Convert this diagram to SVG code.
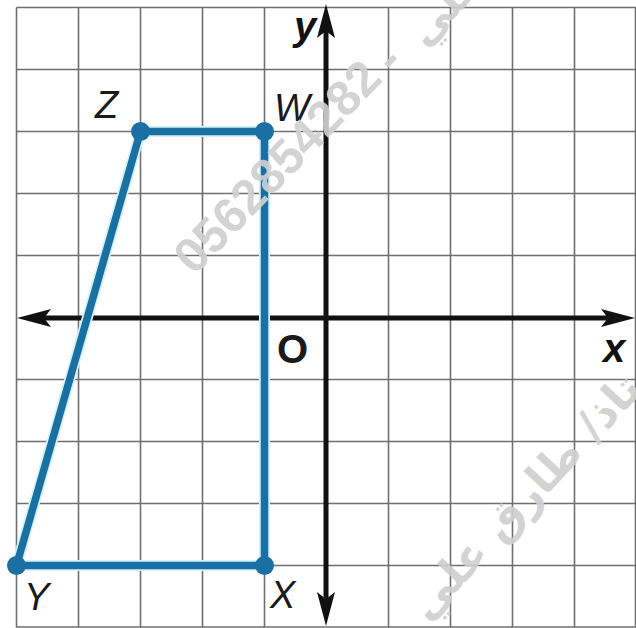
<svg xmlns="http://www.w3.org/2000/svg" width="636" height="628" viewBox="0 0 636 628">
  <style>
    .grid line { stroke: #6f6f6f; stroke-width: 1.6; }
    .axis { stroke: #111; stroke-width: 5; fill: none; }
    .arrow { fill: #111; }
    .halo { stroke: #d3f3fb; stroke-width: 11; fill: none; stroke-linecap: round; stroke-linejoin: round; }
    .edge { stroke: #1a70a3; stroke-width: 7.5; fill: none; stroke-linecap: round; }
    .dot { fill: #1a70a3; }
    .lbl { font-family: "Liberation Sans", Arial, sans-serif; font-size: 38px; font-style: italic; fill: #1a1a1a; }
    .axl { font-family: "Liberation Sans", Arial, sans-serif; font-size: 40px; font-style: italic; font-weight: bold; fill: #111; }
    .wm { font-family: "Liberation Sans", "DejaVu Sans", sans-serif; font-weight: bold; fill: #cfcfcf; fill-opacity: 0.92; }
    .wma { font-family: "DejaVu Sans", sans-serif; font-weight: bold; fill: #cfcfcf; fill-opacity: 0.92; }
  </style>
  <defs>
    <path id="ah" d="M0,0 L-9,34 L0,27 L9,34 Z"/>
  </defs>
  <rect width="636" height="628" fill="#ffffff"/>

  <g id="grid" class="grid">
    <line x1="16.5" y1="7.5" x2="16.5" y2="627.5"/>
    <line x1="78.5" y1="7.5" x2="78.5" y2="627.5"/>
    <line x1="140.5" y1="7.5" x2="140.5" y2="627.5"/>
    <line x1="202.5" y1="7.5" x2="202.5" y2="627.5"/>
    <line x1="264.5" y1="7.5" x2="264.5" y2="627.5"/>
    <line x1="388.5" y1="7.5" x2="388.5" y2="627.5"/>
    <line x1="450.5" y1="7.5" x2="450.5" y2="627.5"/>
    <line x1="512.5" y1="7.5" x2="512.5" y2="627.5"/>
    <line x1="574.5" y1="7.5" x2="574.5" y2="627.5"/>
    <line x1="635.5" y1="7.5" x2="635.5" y2="627.5"/>
    <line x1="16.5" y1="7.5" x2="636" y2="7.5"/>
    <line x1="16.5" y1="69.5" x2="636" y2="69.5"/>
    <line x1="16.5" y1="131.5" x2="636" y2="131.5"/>
    <line x1="16.5" y1="193.5" x2="636" y2="193.5"/>
    <line x1="16.5" y1="255.5" x2="636" y2="255.5"/>
    <line x1="16.5" y1="379.5" x2="636" y2="379.5"/>
    <line x1="16.5" y1="441.5" x2="636" y2="441.5"/>
    <line x1="16.5" y1="503.5" x2="636" y2="503.5"/>
    <line x1="16.5" y1="565.5" x2="636" y2="565.5"/>
    <line x1="16.5" y1="627" x2="636" y2="627"/>
  </g>

  <g id="axes">
    <line class="axis" x1="40" y1="318" x2="612" y2="318"/>
    <line class="axis" x1="326" y1="28" x2="326" y2="602"/>
    <use href="#ah" class="arrow" transform="translate(326,4)"/>
    <use href="#ah" class="arrow" transform="translate(326,626) rotate(180)"/>
    <use href="#ah" class="arrow" transform="translate(17,318) rotate(-90)"/>
    <use href="#ah" class="arrow" transform="translate(635,318) rotate(90)"/>
    <text class="axl" x="294" y="40">y</text>
    <text class="axl" x="603" y="362">x</text>
    <text class="lbl" x="277" y="363" style="font-style:normal;font-weight:bold;font-size:40px">O</text>
  </g>

  <g id="connectors">
    <polygon class="halo" points="140.5,131.5 264.5,131.5 264.5,565.5 16.5,565.5"/>
    <line class="edge" x1="140.5" y1="131.5" x2="264.5" y2="131.5"/>
    <line class="edge" x1="264.5" y1="131.5" x2="264.5" y2="565.5"/>
    <line class="edge" x1="264.5" y1="565.5" x2="16.5" y2="565.5"/>
    <line class="edge" x1="16.5" y1="565.5" x2="140.5" y2="131.5"/>
  </g>

  <g id="Z">
    <circle class="dot" cx="140.5" cy="131.5" r="9.5"/>
    <text class="lbl" x="95" y="118">Z</text>
  </g>
  <g id="W">
    <circle class="dot" cx="264.5" cy="131.5" r="9.5"/>
    <text class="lbl" x="274" y="121">W</text>
  </g>
  <g id="X">
    <circle class="dot" cx="264.5" cy="565.5" r="9.5"/>
    <text class="lbl" x="270" y="608">X</text>
  </g>
  <g id="Y">
    <circle class="dot" cx="16.5" cy="565.5" r="9.5"/>
    <text class="lbl" x="24" y="610">Y</text>
  </g>

  <g id="watermark">
    <text class="wm" font-size="49" text-anchor="middle" dy="0.36em" transform="translate(276.5,166) rotate(-46)">0562854282</text>
    <text class="wm" font-size="49" text-anchor="middle" dy="0.36em" transform="translate(387,58) rotate(-46)">-</text>
    <text class="wma" font-size="42" dy="0.36em" transform="translate(414,38) rotate(-46)">علي</text>
    <text class="wma" font-size="44" dy="0.36em" transform="translate(416,612) rotate(-47)">الأستاذ/ طارق علي</text>
  </g>
</svg>
